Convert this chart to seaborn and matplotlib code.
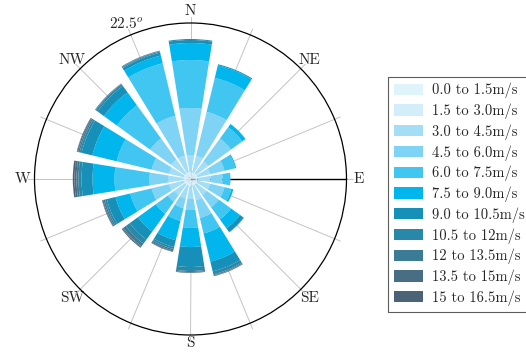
import numpy as np
import matplotlib
matplotlib.use('Agg')
import matplotlib.pyplot as plt
import matplotlib.transforms as mtransforms
import seaborn as sns
from matplotlib.patches import Patch

# direction angles (math degrees, 0 = East, counter-clockwise)
directions = ['N', 'NNE', 'NE', 'ENE', 'E', 'ESE', 'SE', 'SSE',
              'S', 'SSW', 'SW', 'WSW', 'W', 'WNW', 'NW', 'NNW']
dir_angles = [90, 67.5, 45, 22.5, 0, -22.5, -45, -67.5,
              -90, -112.5, -135, -157.5, 180, 157.5, 135, 112.5]

speed_bins = ['0.0 to 1.5m/s', '1.5 to 3.0m/s', '3.0 to 4.5m/s', '4.5 to 6.0m/s',
              '6.0 to 7.5m/s', '7.5 to 9.0m/s', '9.0 to 10.5m/s', '10.5 to 12m/s',
              '12 to 13.5m/s', '13.5 to 15m/s', '15 to 16.5m/s']

# frequency per speed bin, one value per direction (same order as directions)
f_00_15 = [0.15] * 16
f_15_30 = [0.55] * 16
f_30_45 = [1.7, 1.7, 1.5, 1.3, 1.3, 1.3, 1.3, 1.5, 1.3, 1.3, 1.3, 1.5, 1.5, 1.5, 1.7, 1.7]
f_45_60 = [4.7, 4.5, 2.8, 1.5, 1.2, 1.5, 1.5, 1.8, 1.1, 1.0, 0.8, 1.8, 1.9, 1.8, 2.6, 4.1]
f_60_75 = [4.8, 3.5, 1.4, 1.1, 0.8, 0.7, 1.5, 1.6, 1.8, 1.3, 1.5, 2.2, 3.5, 3.6, 4.1, 5.4]
f_75_90 = [1.7, 1.3, 0.4, 0.1, 0.0, 0.2, 1.1, 2.9, 1.9, 2.0, 2.2, 1.5, 2.2, 2.5, 1.6, 0.8]
f_90_105 = [0.3, 0.1, 0.0, 0.0, 0.0, 0.0, 0.45, 1.0, 2.0, 0.7, 1.0, 0.9, 1.1, 1.1, 0.8, 0.3]
f_105_12 = [0.1, 0.0, 0.0, 0.0, 0.0, 0.0, 0.05, 0.3, 0.4, 0.2, 0.5, 0.2, 0.3, 0.2, 0.2, 0.1]
f_12_135 = [0.0, 0.0, 0.0, 0.0, 0.0, 0.0, 0.0, 0.1, 0.1, 0.15, 0.3, 0.15, 0.2, 0.15, 0.05, 0.05]
f_135_15 = [0.0, 0.0, 0.0, 0.0, 0.0, 0.0, 0.0, 0.05, 0.05, 0.1, 0.1, 0.1, 0.2, 0.1, 0.05, 0.05]
f_15_165 = [0.0, 0.0, 0.0, 0.0, 0.0, 0.0, 0.0, 0.05, 0.05, 0.05, 0.1, 0.05, 0.17, 0.05, 0.0, 0.0]

freqs = [f_00_15, f_15_30, f_30_45, f_45_60, f_60_75, f_75_90,
         f_90_105, f_105_12, f_12_135, f_135_15, f_15_165]

tick_angles = [0, 22.5, 45, 67.5, 90, 112.5, 135, 157.5,
               180, 202.5, 225, 247.5, 270, 292.5, 315, 337.5]
tick_labels = ['E', '', 'NE', '', 'N', '$22.5^o$', 'NW', '',
               'W', '', 'SW', '', 'S', '', 'SE', '']

colors = sns.color_palette(['#dff3fb', '#d3eef9', '#a3def6', '#7fd3f5', '#41c6f2', '#00b6ec',
                            '#1690b8', '#2888aa', '#3c7b95', '#476e82', '#4a6376'])

sns.set_style('white')
plt.rcParams['font.family'] = ['cmr10', 'DejaVu Serif']
plt.rcParams['mathtext.fontset'] = 'cm'
plt.rcParams['axes.unicode_minus'] = False

fig = plt.figure(figsize=(5.26, 3.52), dpi=100)
ax = fig.add_axes([34.5 / 526, 17 / 352, 312 / 526, 312 / 352], projection='polar')

theta = np.deg2rad(dir_angles)
width = np.deg2rad(22.5 * 0.8)
rmax = 15.6

# grey spokes running a little past the rim
for a in tick_angles:
    ax.plot([np.deg2rad(a)] * 2, [0, rmax * 1.04], color='#c4c4c4', lw=0.7,
            zorder=1, clip_on=False)
# black radial axis line towards E
ax.plot([0, 0], [0, rmax], color='black', lw=1.0, zorder=2)

bottom = np.zeros(len(directions))
for i, f in enumerate(freqs):
    f = np.array(f)
    ax.bar(theta, f, width=width, bottom=bottom, color=colors[i],
           edgecolor='none', linewidth=0, zorder=3, label=speed_bins[i])
    bottom += f

ax.set_ylim(0, rmax)
ax.set_yticks([])
ax.set_xticks(np.deg2rad(tick_angles))
ax.set_xticklabels(tick_labels, fontsize=11)
ax.grid(False)
ax.tick_params(axis='x', length=0, pad=1.5)
ax.spines['polar'].set_linewidth(0.9)
ax.spines['polar'].set_color('black')

# nudge the bottom label up a little so it stays inside the canvas
for lab in ax.get_xticklabels():
    if lab.get_text() == 'S':
        lab.set_transform(lab.get_transform() +
                          mtransforms.ScaledTranslation(0, 2.5 / 72, fig.dpi_scale_trans))

handles = [Patch(facecolor=colors[i], edgecolor='none') for i in range(len(speed_bins))]
leg = fig.legend(handles, speed_bins, loc='upper left',
                 bbox_to_anchor=(388 / 526, 1 - 77 / 352), borderaxespad=0,
                 fontsize=10.5, frameon=True, fancybox=False, edgecolor='#333333',
                 handlelength=2.0, handleheight=0.8, labelspacing=0.36,
                 borderpad=0.4, handletextpad=0.6)
leg.get_frame().set_linewidth(0.8)

plt.savefig('out.png', dpi=100)
